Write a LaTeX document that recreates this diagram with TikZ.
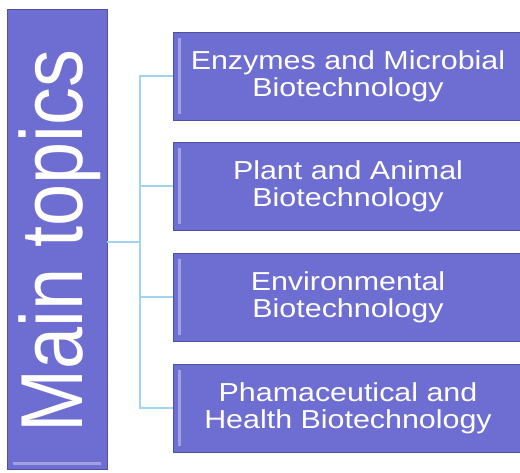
\documentclass[tikz,border=0pt]{standalone}
\usepackage{fontspec}
\newfontfamily\topicfont[FakeStretch=1.17]{Liberation Sans}
\newfontfamily\titlefont[FakeStretch=0.86]{Liberation Sans}
\usetikzlibrary{positioning}
\definecolor{boxfill}{RGB}{110,110,210}
\definecolor{boxedge}{RGB}{80,80,160}
\definecolor{linkblue}{RGB}{160,212,240}
\tikzset{
  topic/.style={draw=boxedge, fill=boxfill, line width=0.8pt, minimum width=350pt, minimum height=88pt,
    inner sep=0pt, align=center, text=white, font=\topicfont\fontsize{26}{26.6}\selectfont,
    path picture={\draw[white!35!boxfill, line width=3pt]
      ([xshift=6pt,yshift=-6pt]path picture bounding box.north west) -- ([xshift=6pt,yshift=6pt]path picture bounding box.south west);}},
  link/.style={draw=linkblue, line width=2pt}
}
\begin{document}
\begin{tikzpicture}[x=1pt, y=-1pt]
  \useasboundingbox (0,0) rectangle (520,473);
  \node[draw=boxedge, fill=boxfill, line width=0.8pt, minimum width=100pt, minimum height=460pt, inner sep=0pt,
    path picture={\draw[white!35!boxfill, line width=3pt]
      ([xshift=6pt,yshift=6pt]path picture bounding box.south west) -- ([xshift=-6pt,yshift=6pt]path picture bounding box.south east);}]
    (main) at (57,239) {};
  \node[rotate=90, text=white, font=\titlefont\fontsize{88}{88}\selectfont] (title) at (60,241) {Main topics};

  \node[topic] (enzymes) at (348,76) {Enzymes and Microbial\\Biotechnology};
  \node[topic] (plant) at (348,186.5) {Plant and Animal\\Biotechnology};
  \node[topic] (environ) at (348,297) {Environmental\\Biotechnology};
  \node[topic] (pharma) at (348,408) {Phamaceutical and\\Health Biotechnology};

  \coordinate (hub) at (140,242);
  \draw[link] (main.east |- hub) -- (hub);
  \draw[link] (hub) |- (enzymes.west);
  \draw[link] (hub) |- (plant.west);
  \draw[link] (hub) |- (environ.west);
  \draw[link] (hub) |- (pharma.west);
\end{tikzpicture}
\end{document}
